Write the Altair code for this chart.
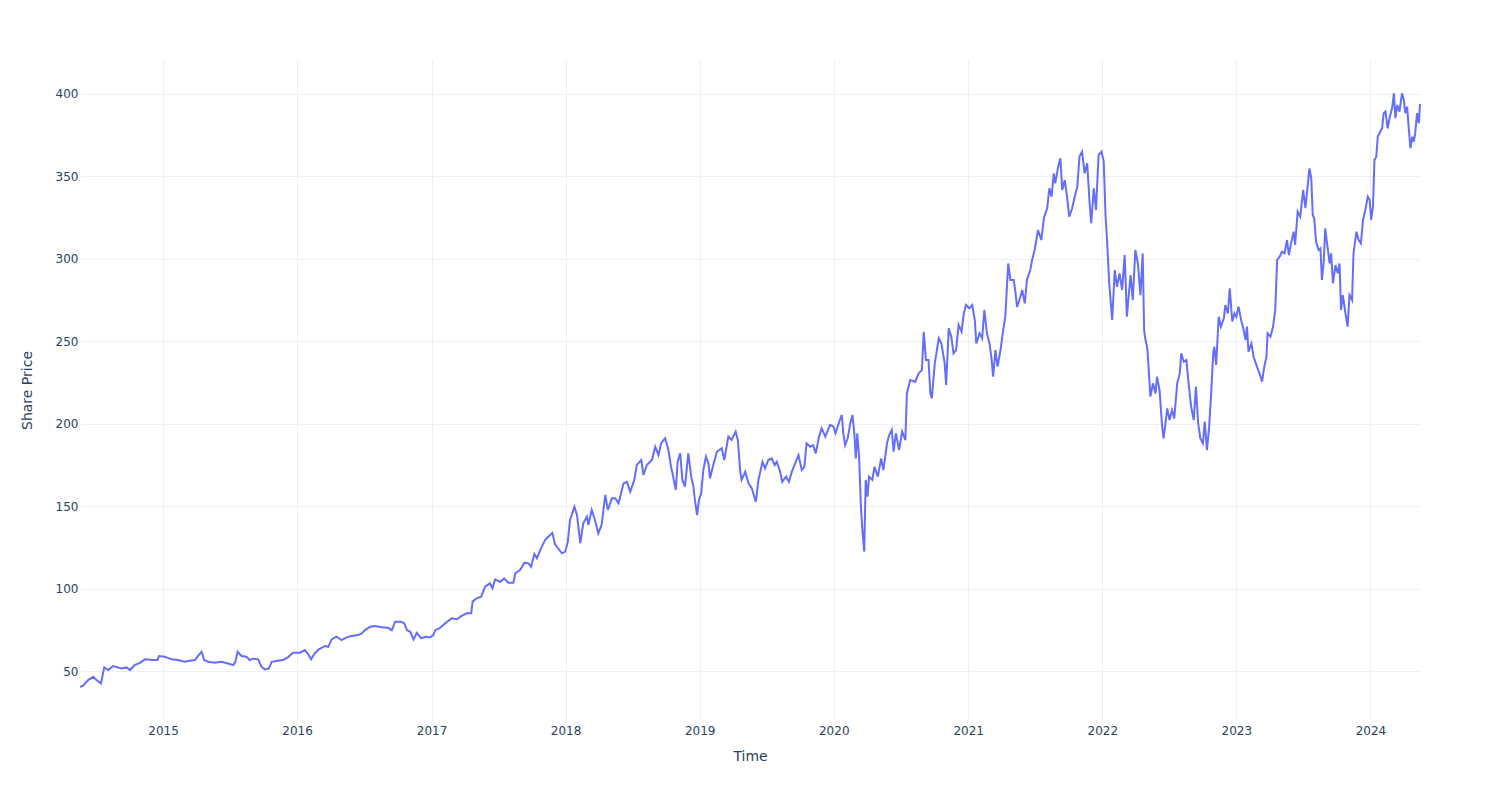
import altair as alt
import pandas as pd

# Time as decimal years and the share price at that time
year_frac = [
    2014.381, 2014.403, 2014.443, 2014.480, 2014.506, 2014.538, 2014.562, 2014.592, 2014.629, 2014.692,
    2014.729, 2014.754, 2014.791, 2014.828, 2014.866, 2014.928, 2014.960, 2014.970,
    2015.015, 2015.065, 2015.114, 2015.164, 2015.201, 2015.239, 2015.268, 2015.289, 2015.308, 2015.338,
    2015.388, 2015.438, 2015.487, 2015.524, 2015.542, 2015.557, 2015.587, 2015.624, 2015.649, 2015.673,
    2015.711, 2015.736, 2015.761, 2015.790, 2015.811, 2015.860, 2015.897, 2015.934, 2015.972,
    2016.022, 2016.059, 2016.084, 2016.104, 2016.133, 2016.163, 2016.208, 2016.233, 2016.258, 2016.295,
    2016.333, 2016.370, 2016.407, 2016.456, 2016.482, 2016.506, 2016.544, 2016.581, 2016.631, 2016.680,
    2016.705, 2016.730, 2016.775, 2016.799, 2016.817, 2016.842, 2016.867, 2016.892, 2016.924, 2016.954,
    2016.991,
    2017.016, 2017.028, 2017.058, 2017.103, 2017.153, 2017.190, 2017.227, 2017.265, 2017.297, 2017.307,
    2017.339, 2017.371, 2017.401, 2017.438, 2017.456, 2017.476, 2017.513, 2017.545, 2017.575, 2017.612,
    2017.625, 2017.662, 2017.694, 2017.724, 2017.744, 2017.769, 2017.787, 2017.819, 2017.849, 2017.873,
    2017.903, 2017.923, 2017.948, 2017.973, 2017.998,
    2018.018, 2018.035, 2018.067, 2018.085, 2018.110, 2018.134, 2018.160, 2018.172, 2018.197, 2018.221,
    2018.246, 2018.271, 2018.296, 2018.316, 2018.346, 2018.371, 2018.395, 2018.433, 2018.458, 2018.483,
    2018.515, 2018.532, 2018.565, 2018.582, 2018.607, 2018.644, 2018.669, 2018.694, 2018.714, 2018.744,
    2018.768, 2018.788, 2018.798, 2018.823, 2018.838, 2018.855, 2018.873, 2018.893, 2018.917, 2018.937,
    2018.955, 2018.967, 2018.982, 2018.997,
    2019.012, 2019.029, 2019.047, 2019.066, 2019.079, 2019.104, 2019.129, 2019.166, 2019.186, 2019.216,
    2019.241, 2019.271, 2019.286, 2019.303, 2019.315, 2019.340, 2019.365, 2019.390, 2019.420, 2019.439,
    2019.469, 2019.489, 2019.514, 2019.539, 2019.559, 2019.576, 2019.601, 2019.618, 2019.644, 2019.668,
    2019.688, 2019.713, 2019.738, 2019.763, 2019.782, 2019.800, 2019.825, 2019.849, 2019.867, 2019.892,
    2019.912, 2019.937, 2019.974, 2019.999,
    2020.016, 2020.041, 2020.061, 2020.073, 2020.086, 2020.106, 2020.123, 2020.140, 2020.155, 2020.166,
    2020.177, 2020.190, 2020.203, 2020.215, 2020.227, 2020.240, 2020.252, 2020.265, 2020.289, 2020.304,
    2020.330, 2020.354, 2020.371, 2020.397, 2020.414, 2020.434, 2020.446, 2020.464, 2020.488, 2020.509,
    2020.533, 2020.546, 2020.558, 2020.571, 2020.608, 2020.632, 2020.658, 2020.670, 2020.688, 2020.707,
    2020.720, 2020.732, 2020.752, 2020.782, 2020.802, 2020.826, 2020.837, 2020.856, 2020.876, 2020.893,
    2020.911, 2020.931, 2020.951, 2020.968, 2020.986,
    2021.010, 2021.031, 2021.050, 2021.063, 2021.085, 2021.105, 2021.122, 2021.142, 2021.160, 2021.174,
    2021.187, 2021.204, 2021.221, 2021.242, 2021.259, 2021.279, 2021.299, 2021.316, 2021.341, 2021.354,
    2021.366, 2021.391, 2021.404, 2021.423, 2021.441, 2021.465, 2021.478, 2021.497, 2021.523, 2021.547,
    2021.565, 2021.590, 2021.607, 2021.622, 2021.639, 2021.652, 2021.672, 2021.689, 2021.702, 2021.721,
    2021.739, 2021.756, 2021.776, 2021.796, 2021.814, 2021.831, 2021.851, 2021.870, 2021.888, 2021.905,
    2021.920, 2021.937, 2021.955, 2021.975, 2021.995,
    2022.012, 2022.025, 2022.037, 2022.054, 2022.075, 2022.094, 2022.112, 2022.129, 2022.149, 2022.168,
    2022.186, 2022.211, 2022.228, 2022.248, 2022.268, 2022.286, 2022.303, 2022.313, 2022.323, 2022.338,
    2022.360, 2022.380, 2022.398, 2022.410, 2022.430, 2022.447, 2022.459, 2022.485, 2022.504, 2022.522,
    2022.539, 2022.559, 2022.579, 2022.591, 2022.609, 2022.629, 2022.646, 2022.664, 2022.683, 2022.701,
    2022.716, 2022.733, 2022.753, 2022.765, 2022.783, 2022.800, 2022.815, 2022.828, 2022.838, 2022.850,
    2022.870, 2022.887, 2022.907, 2022.920, 2022.937, 2022.952, 2022.970, 2022.987,
    2023.002, 2023.019, 2023.037, 2023.056, 2023.069, 2023.081, 2023.093, 2023.113, 2023.131, 2023.156,
    2023.175, 2023.193, 2023.210, 2023.225, 2023.235, 2023.255, 2023.275, 2023.292, 2023.305, 2023.324,
    2023.342, 2023.359, 2023.380, 2023.392, 2023.409, 2023.429, 2023.441, 2023.459, 2023.479, 2023.499,
    2023.516, 2023.533, 2023.546, 2023.559, 2023.571, 2023.583, 2023.596, 2023.615, 2023.628, 2023.641,
    2023.653, 2023.665, 2023.678, 2023.697, 2023.708, 2023.723, 2023.740, 2023.757, 2023.772, 2023.782,
    2023.797, 2023.814, 2023.831, 2023.846, 2023.864, 2023.876, 2023.896, 2023.913, 2023.931, 2023.946,
    2023.964, 2023.981, 2023.996,
    2024.008, 2024.021, 2024.031, 2024.046, 2024.055, 2024.075, 2024.088, 2024.100, 2024.113, 2024.130,
    2024.145, 2024.163, 2024.175, 2024.187, 2024.200, 2024.217, 2024.237, 2024.249, 2024.262, 2024.274,
    2024.286, 2024.299, 2024.312, 2024.324, 2024.336, 2024.349, 2024.361, 2024.370,
]

price = [
    40.5, 41.0, 44.5, 46.5, 44.5, 42.5, 52.2, 50.6, 53.0, 51.6,
    52.2, 50.6, 53.6, 55.0, 57.1, 56.7, 56.7, 59.1,
    58.7, 57.1, 56.7, 55.7, 56.3, 56.7, 59.7, 61.7, 56.7, 55.6,
    55.0, 55.6, 54.6, 53.6, 55.6, 61.7, 59.1, 58.7, 56.7, 57.5,
    57.1, 52.6, 51.0, 51.6, 55.6, 56.3, 56.7, 58.3, 61.1,
    61.1, 62.7, 60.3, 57.1, 60.7, 63.1, 65.2, 64.7, 69.2, 70.8,
    68.8, 70.4, 71.2, 71.8, 72.8, 74.8, 76.9, 77.3, 76.5, 76.2,
    74.8, 79.9, 79.9, 78.9, 74.8, 73.8, 69.2, 73.2, 69.8, 70.8,
    70.4,
    71.8, 74.8, 75.8, 78.9, 82.0, 81.4, 83.4, 85.0, 85.0, 92.1,
    94.1, 95.1, 101.2, 103.2, 100.2, 105.6, 104.1, 106.2, 103.6, 103.6,
    109.3, 111.3, 115.7, 115.3, 113.3, 121.0, 118.4, 124.4, 129.4, 131.4,
    133.8, 127.0, 124.0, 121.4, 122.4,
    128.4, 141.6, 149.6, 144.6, 127.5, 139.6, 143.6, 138.6, 147.7, 141.6,
    133.5, 138.6, 156.8, 147.7, 154.8, 154.8, 151.7, 163.9, 164.8, 158.8,
    165.9, 175.0, 178.0, 168.9, 175.0, 178.0, 186.0, 181.0, 188.1, 191.2,
    184.0, 173.9, 169.9, 159.8, 176.9, 182.0, 165.9, 161.8, 182.0, 167.9,
    161.8, 153.7, 144.6, 153.7,
    157.8, 171.9, 180.0, 176.0, 166.9, 175.0, 183.0, 185.1, 178.0, 192.2,
    190.1, 195.2, 190.1, 171.9, 165.9, 170.9, 163.9, 160.8, 152.7, 165.9,
    176.9, 172.9, 178.0, 179.0, 175.0, 176.9, 170.9, 164.8, 167.9, 164.8,
    170.9, 176.0, 181.0, 171.9, 173.9, 188.1, 186.0, 187.0, 182.0, 192.2,
    197.2, 192.2, 199.3, 198.3,
    194.2, 201.3, 205.3, 194.2, 187.0, 191.2, 200.3, 205.3, 194.2, 179.0,
    194.2, 180.0, 149.6, 135.5, 122.4, 165.9, 155.7, 167.9, 165.9, 173.9,
    167.9, 179.0, 171.9, 188.1, 193.1, 196.2, 183.0, 194.2, 184.0, 195.2,
    190.1, 218.4, 222.5, 226.5, 225.5, 230.5, 232.6, 255.8, 238.6, 238.6,
    218.4, 215.4, 236.6, 251.8, 248.7, 236.6, 223.5, 257.9, 252.8, 242.7,
    244.7, 259.9, 255.8, 266.9, 272.0,
    270.0, 272.0, 262.9, 248.7, 254.8, 251.8, 269.0, 254.8, 248.7, 240.6,
    228.5, 244.7, 234.6, 244.7, 254.8, 264.9, 297.2, 287.2, 287.2, 279.1,
    270.9, 277.0, 281.1, 273.0, 287.2, 293.2, 299.3, 305.4, 317.5, 311.4,
    324.6, 330.7, 342.8, 337.7, 351.9, 345.8, 355.9, 361.0, 341.8, 347.8,
    337.7, 325.6, 330.7, 337.7, 343.8, 362.0, 365.0, 351.9, 358.0, 335.7,
    321.6, 342.8, 329.6, 363.0, 365.0,
    359.0, 325.6, 311.4, 285.2, 262.9, 293.2, 283.1, 291.2, 281.1, 302.3,
    264.9, 290.2, 275.0, 305.4, 297.2, 278.0, 303.3, 256.8, 251.8, 245.0,
    216.4, 224.5, 218.4, 228.5, 220.4, 198.2, 191.1, 209.3, 202.2, 208.3,
    203.2, 224.5, 230.5, 242.7, 237.6, 238.6, 224.5, 210.3, 202.2, 222.5,
    200.3, 191.1, 188.1, 201.3, 184.0, 198.2, 220.4, 242.7, 246.7, 235.6,
    264.9, 258.9, 263.9, 272.0, 266.9, 282.1, 262.0, 266.9,
    264.9, 271.0, 262.9, 256.8, 250.8, 258.9, 243.7, 248.7, 240.6, 234.6,
    230.5, 225.5, 234.6, 240.6, 254.8, 252.8, 258.9, 269.0, 299.3, 301.3,
    304.3, 303.3, 311.4, 302.3, 309.4, 316.5, 308.4, 328.6, 325.6, 341.8,
    330.7, 343.8, 354.9, 348.9, 326.6, 324.6, 310.4, 305.4, 306.4, 287.2,
    298.3, 318.5, 309.4, 297.2, 303.3, 285.2, 296.2, 291.2, 297.2, 269.0,
    278.0, 266.9, 258.9, 278.0, 275.0, 303.3, 316.5, 311.4, 309.4, 323.6,
    329.6, 337.7, 335.7,
    323.6, 331.7, 360.0, 362.0, 374.1, 377.2, 379.2, 388.3, 389.3, 379.2,
    386.3, 391.3, 400.4, 385.3, 393.3, 389.3, 400.4, 396.4, 388.3, 392.3,
    380.2, 367.1, 374.1, 371.1, 376.2, 388.3, 382.2, 394.0,
]

y_ticks = [50, 100, 150, 200, 250, 300, 350, 400]


def to_date(y):
    yr = int(y)
    start = pd.Timestamp(year=yr, month=1, day=1)
    end = pd.Timestamp(year=yr + 1, month=1, day=1)
    return (start + (end - start) * (y - yr)).normalize()


df = pd.DataFrame({"time": [to_date(v) for v in year_frac], "price": price})

FONT = "DejaVu Sans"
TXT = "#2a3f5f"
GRID = "#EBF0F8"

chart = (
    alt.Chart(df)
    .mark_line(color="#636efa", strokeWidth=2)
    .encode(
        x=alt.X(
            "time:T",
            title="Time",
            scale=alt.Scale(nice=False, padding=0),
            axis=alt.Axis(
                format="%Y",
                tickCount={"interval": "year", "step": 1},
                grid=True,
                gridColor=GRID,
                gridWidth=1,
                domain=False,
                ticks=False,
                tickSize=0,
                labelPadding=5,
                labelFlush=False,
                labelFont=FONT,
                labelFontSize=12,
                labelColor=TXT,
                titleFont=FONT,
                titleFontSize=14,
                titleFontWeight="normal",
                titleColor=TXT,
                titleX=670,
                titleY=36,
                titleBaseline="middle",
            ),
        ),
        y=alt.Y(
            "price:Q",
            title="Share Price",
            scale=alt.Scale(domain=[20.3, 420.6], nice=False, zero=False),
            axis=alt.Axis(
                values=y_ticks,
                grid=True,
                gridColor=GRID,
                gridWidth=1,
                domain=False,
                ticks=False,
                tickSize=0,
                labelPadding=2,
                labelFont=FONT,
                labelFontSize=12,
                labelColor=TXT,
                titleFont=FONT,
                titleFontSize=14,
                titleFontWeight="normal",
                titleColor=TXT,
                titleAngle=-90,
                titleX=-53,
                titleY=330,
                titleBaseline="middle",
            ),
        ),
    )
    .properties(
        width=1340,
        height=660,
        autosize=alt.AutoSizeParams(type="none"),
        padding={"left": 80, "top": 60, "right": 80, "bottom": 80},
        background="white",
    )
    .configure_view(stroke="transparent")
)

chart.save("out.html", embed_options={"renderer": "svg", "actions": False})
